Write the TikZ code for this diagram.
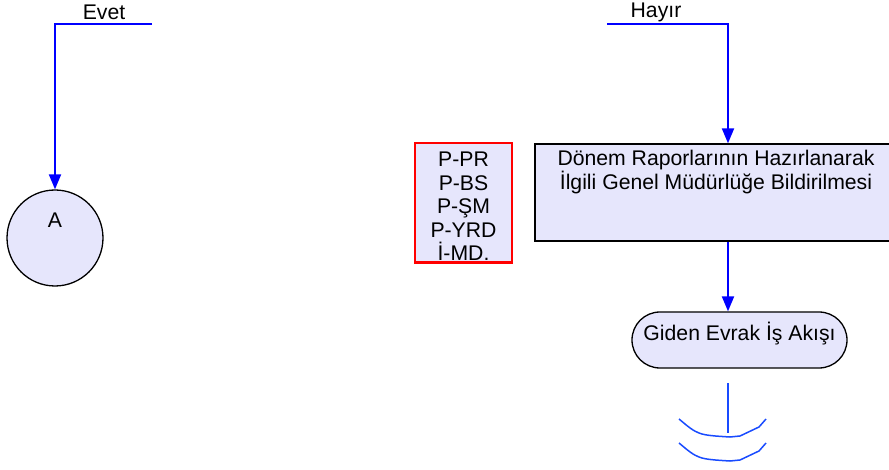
\documentclass[tikz,border=0pt]{standalone}
\usepackage{fontspec}
\setmainfont{Liberation Sans}
\usetikzlibrary{arrows.meta,shapes.misc}
\definecolor{flowblue}{RGB}{0,0,255}
\definecolor{arcblue}{RGB}{25,75,255}
\definecolor{boxfill}{RGB}{230,230,252}
\tikzset{
  flow/.style={draw=flowblue, line width=2pt, -{Triangle[width=12pt,length=15pt]}},
  procbox/.style={draw=black, line width=1.3pt, fill=boxfill, minimum width=362pt, minimum height=97pt, inner sep=0pt},
  rolebox/.style={draw=red, line width=1.6pt, fill=boxfill, minimum width=97pt, minimum height=119pt, inner sep=0pt, align=center},
  termbox/.style={rounded rectangle, draw=black, line width=1.3pt, fill=boxfill, minimum width=215pt, minimum height=56pt, inner sep=0pt},
  offpage/.style={draw=arcblue, line width=1.5pt}
}
\begin{document}
\begin{tikzpicture}[x=1pt, y=-1pt, font=\fontsize{21.2}{23.5}\selectfont]
\useasboundingbox (0,0) rectangle (889,470);
% sol kol
\coordinate (evetin) at (152,24);
\node (evet) at (104,12) {Evet};
\node[circle, draw=black, line width=1.3pt, fill=boxfill, minimum size=96pt, inner sep=0pt,
  text height=4pt, text depth=24pt] (circA) at (55,238) {A};
\draw[flow] (evetin) -| (circA.north);
% sag kol
\coordinate (hayirin) at (607,24);
\coordinate (trunk) at (728,24);
\node (hayir) at (656,12) {Hayır};
\node[procbox] (report) at (716,192.5) {};
\node[anchor=north, align=center, inner sep=0pt] (reporttxt) at (716,150) {Dönem Raporlarının Hazırlanarak\\İlgili Genel Müdürlüğe Bildirilmesi};
\draw[flow] (hayirin) -- (trunk) -- (trunk |- report.north);
\node[rolebox] (roles) at (463.5,202.5) {};
\node[anchor=north, align=center, inner sep=0pt] (rolestxt) at (463.5,152) {P-PR\\P-BS\\P-ŞM\\P-YRD\\İ-MD.};
\draw[red, line width=1.6pt] (roles.south west) -- (roles.south east);
\node[termbox, text height=14pt, text depth=12pt] (giden) at (739.5,340) {Giden Evrak İş Akışı};
\draw[flow] (trunk |- report.south) -- (trunk |- giden.north);
% sayfa disi baglanti
\coordinate (offtop) at (728,383);
\coordinate (offbot) at (728,433);
\draw[offpage] (offtop) -- (offbot);
\draw[offpage] (679,419) .. controls (698,435) .. (730,437) -- (740,436) -- (759,427) -- (766,419);
\draw[offpage] (679,443) .. controls (698,459) .. (730,461) -- (740,460) -- (759,451) -- (766,443);
\end{tikzpicture}
\end{document}
